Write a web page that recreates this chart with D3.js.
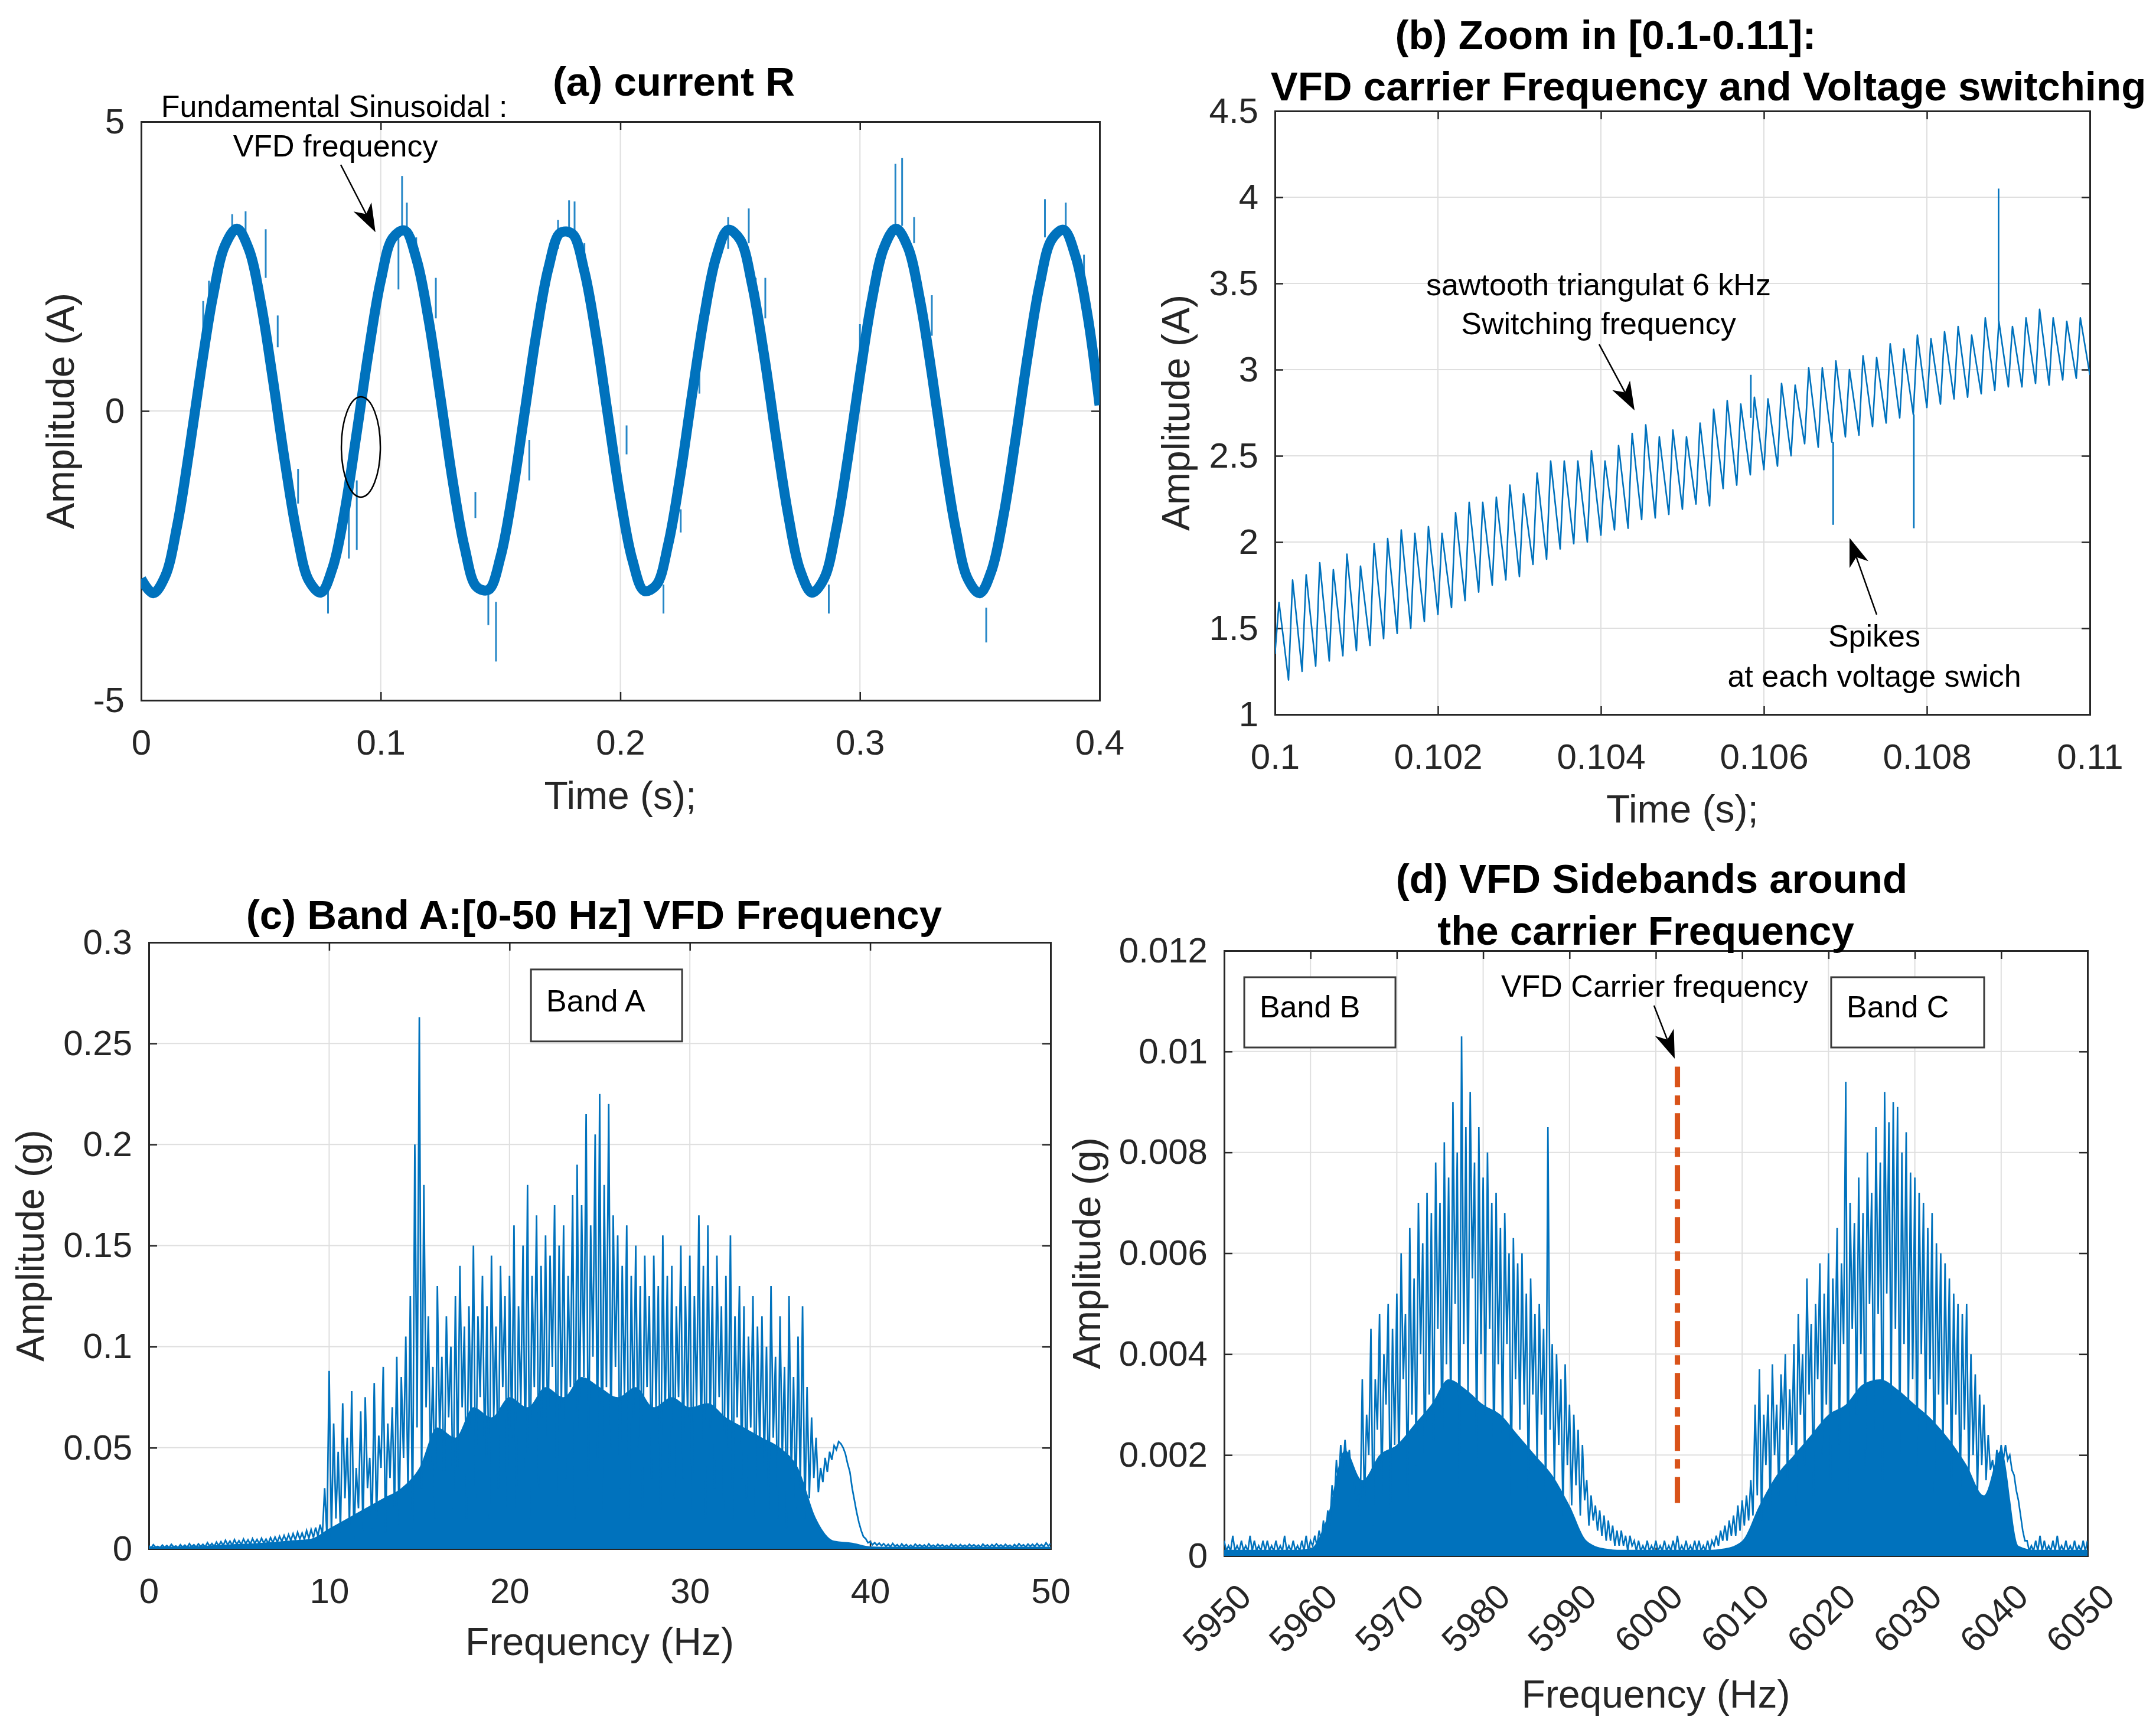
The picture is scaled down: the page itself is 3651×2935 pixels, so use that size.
<!DOCTYPE html>
<html>
<head>
<meta charset="utf-8">
<script src="https://cdn.jsdelivr.net/npm/d3@7"></script>
<style>
  body { margin: 0; background: #fff; }
  svg text { font-family: "Liberation Sans", Arial, Helvetica, sans-serif; }
</style>
</head>
<body>
<svg id="chart" width="3651" height="2935"></svg>
<script>
var width = 3651, height = 2935;
var blue = "#0072BD", orange = "#D95319", axisColor = "#262626", gridColor = "#dfdfdf";
var font = '"Liberation Sans", Arial, Helvetica, sans-serif';

// ---------- (a) current R : one sample every 5 ms ----------
var aStep = 0.005;
var aCurrent = [-2.9, -3.15, -2.86, -1.99, -0.71, 0.71, 1.99, 2.86, 3.15, 2.79,
  1.86, 0.54, -0.88, -2.12, -2.93, -3.14, -2.70, -1.72, -0.37, 1.04,
  2.25, 2.99, 3.12, 2.61, 1.57, 0.21, -1.20, -2.36, -3.04, -3.09,
  -2.52, -1.42, -0.04, 1.35, 2.47, 3.08, 3.06, 2.41, 1.27, -0.13,
  -1.50, -2.57, -3.11, -3.01, -2.30, -1.12, 0.30, 1.64, 2.66, 3.13,
  2.96, 2.18, 0.96, -0.46, -1.78, -2.75, -3.14, -2.90, -2.06, -0.80,
  0.62, 1.92, 2.82, 3.15, 2.83, 1.93, 0.64, -0.79, -2.05, -2.90,
  -3.15, -2.75, -1.79, -0.47, 0.95, 2.18, 2.96, 3.13, 2.67, 1.65, 0.10];
// spikes: [time, low, high]
var aSpikes = [[0.0259, 1.0, 1.9], [0.0283, 1.6, 2.25], [0.0315, 2.2, 2.65], [0.0380, 3.0, 3.4],
  [0.0436, 2.9, 3.45], [0.0520, 2.3, 3.14], [0.0570, 1.1, 1.65], [0.0655, -1.6, -1.0],
  [0.0780, -3.5, -3.0], [0.0867, -2.55, -1.7], [0.0900, -2.4, -1.2],
  [0.1074, 2.1, 3.0], [0.1089, 3.2, 4.06], [0.1109, 3.0, 3.6], [0.1148, 2.4, 3.0], [0.1230, 1.6, 2.3],
  [0.1395, -1.85, -1.4], [0.1449, -3.7, -3.0], [0.1481, -4.33, -3.3], [0.1620, -1.2, -0.5],
  [0.1740, 2.8, 3.3], [0.1786, 3.0, 3.64], [0.1809, 3.0, 3.62], [0.1850, 2.5, 2.9],
  [0.2026, -0.75, -0.25], [0.2180, -3.5, -3.0], [0.2252, -2.1, -1.7], [0.2330, 0.3, 1.0],
  [0.2450, 2.8, 3.35], [0.2536, 2.9, 3.5], [0.2565, 1.8, 2.3], [0.2605, 1.6, 2.3],
  [0.2870, -3.5, -3.0], [0.3000, 0.8, 1.5], [0.3148, 3.2, 4.27], [0.3176, 3.2, 4.37],
  [0.3226, 2.9, 3.35], [0.3300, 1.3, 2.0], [0.3527, -4.0, -3.4], [0.3610, -1.8, -1.2],
  [0.3772, 3.0, 3.66], [0.3859, 3.0, 3.6], [0.3935, 2.3, 2.7]];
var aXTicks = [0, 0.1, 0.2, 0.3, 0.4];
var aYTicks = [-5, 0, 5];

// ---------- (b) zoom 0.1-0.11 s : one tooth per carrier period ----------
var bPeriod = 1 / 6000;
var bStart = 1.35;
var bPeaks = [1.65, 1.78, 1.81, 1.88, 1.84, 1.93, 1.86, 1.99, 2.02, 2.07,
  2.05, 2.09, 2.05, 2.17, 2.23, 2.23, 2.26, 2.33, 2.28, 2.40,
  2.47, 2.47, 2.47, 2.53, 2.47, 2.56, 2.63, 2.68, 2.61, 2.65,
  2.61, 2.69, 2.77, 2.82, 2.80, 2.84, 2.83, 2.92, 2.91, 3.01,
  3.01, 3.05, 3.00, 3.08, 3.07, 3.15, 3.12, 3.20, 3.18, 3.22,
  3.25, 3.20, 3.30, 3.28, 3.25, 3.30, 3.35, 3.30, 3.28, 3.30];
var bTroughs = [1.20, 1.25, 1.28, 1.31, 1.34, 1.37, 1.40, 1.44, 1.47, 1.50,
  1.54, 1.58, 1.62, 1.66, 1.71, 1.75, 1.78, 1.80, 1.87, 1.90,
  1.96, 1.99, 2.00, 2.04, 2.07, 2.08, 2.13, 2.14, 2.16, 2.19,
  2.22, 2.21, 2.31, 2.33, 2.39, 2.42, 2.44, 2.50, 2.57, 2.55,
  2.58, 2.61, 2.62, 2.67, 2.69, 2.72, 2.74, 2.78, 2.80, 2.83,
  2.84, 2.86, 2.88, 2.90, 2.90, 2.92, 2.91, 2.94, 2.95, 2.97];
// spikes: [time, base, tip]
var bSpikes = [[0.10584, 2.72, 2.97], [0.10685, 2.58, 2.10], [0.10784, 2.74, 2.08], [0.10888, 3.28, 4.05]];
var bXTicks = [0.1, 0.102, 0.104, 0.106, 0.108, 0.11];
var bYTicks = [1, 1.5, 2, 2.5, 3, 3.5, 4, 4.5];

// ---------- (c) band A spectrum, 0.25 Hz bins ----------
var cStep = 0.25;
var cHigh = [0.0015, 0.0020, 0.0012, 0.0018, 0.0016, 0.0022, 0.0014, 0.0020,
  0.0018, 0.0025, 0.0020, 0.0024, 0.0022, 0.0030, 0.0026, 0.0033,
  0.0035, 0.0042, 0.0038, 0.0045, 0.0040, 0.0048, 0.0044, 0.0050,
  0.0046, 0.0052, 0.0048, 0.0055, 0.0058, 0.0062, 0.0066, 0.0070,
  0.0075, 0.0082, 0.0078, 0.0090, 0.0095, 0.0105, 0.0120, 0.0300,
  0.0880, 0.0620, 0.0480, 0.0720, 0.0550, 0.0780, 0.0400, 0.0680,
  0.0750, 0.0450, 0.0820, 0.0560, 0.0900, 0.0620, 0.0700, 0.0950,
  0.0850, 0.1050, 0.1250, 0.2000, 0.2630, 0.1800, 0.1150, 0.0900,
  0.1300, 0.0950, 0.1150, 0.1000, 0.1250, 0.1400, 0.1100, 0.1200,
  0.1500, 0.1150, 0.1350, 0.1200, 0.1450, 0.1100, 0.1400, 0.1250,
  0.1350, 0.1600, 0.1200, 0.1500, 0.1800, 0.1350, 0.1650, 0.1400,
  0.1550, 0.1450, 0.1700, 0.1500, 0.1600, 0.1350, 0.1750, 0.1900,
  0.1700, 0.2150, 0.1600, 0.2050, 0.2250, 0.1800, 0.2200, 0.1650,
  0.1550, 0.1400, 0.1600, 0.1350, 0.1500, 0.1300, 0.1450, 0.1250,
  0.1450, 0.1300, 0.1550, 0.1350, 0.1400, 0.1200, 0.1500, 0.1300,
  0.1450, 0.1250, 0.1650, 0.1400, 0.1600, 0.1300, 0.1450, 0.1200,
  0.1350, 0.1550, 0.1150, 0.1300, 0.1200, 0.1050, 0.1250, 0.1100,
  0.1150, 0.1000, 0.1300, 0.0950, 0.1150, 0.0900, 0.1250, 0.0850,
  0.1050, 0.1200, 0.0800, 0.0650, 0.0550, 0.0400, 0.0450, 0.0480,
  0.0510, 0.0530, 0.0500, 0.0420, 0.0300, 0.0180, 0.0090, 0.0050,
  0.0035, 0.0030, 0.0028, 0.0025, 0.0022, 0.0026, 0.0020, 0.0024,
  0.0021, 0.0018, 0.0023, 0.0020, 0.0019, 0.0024, 0.0018, 0.0022,
  0.0020, 0.0017, 0.0023, 0.0019, 0.0021, 0.0018, 0.0022, 0.0020,
  0.0018, 0.0023, 0.0019, 0.0021, 0.0024, 0.0019, 0.0022, 0.0018,
  0.0021, 0.0025, 0.0020, 0.0023, 0.0022, 0.0026, 0.0021, 0.0030,
  0.0025];
// lower turning points between the peaks, same 0.25 Hz bins
var cLow = [0.0004, 0.0008, 0.0005, 0.0007, 0.0006, 0.0009, 0.0005, 0.0008,
  0.0007, 0.0010, 0.0008, 0.0011, 0.0009, 0.0013, 0.0011, 0.0015,
  0.0016, 0.0020, 0.0018, 0.0022, 0.0021, 0.0025, 0.0022, 0.0027,
  0.0025, 0.0029, 0.0026, 0.0031, 0.0033, 0.0036, 0.0038, 0.0041,
  0.0044, 0.0048, 0.0046, 0.0052, 0.0056, 0.0062, 0.0070, 0.0065,
  0.0060, 0.0150, 0.0080, 0.0250, 0.0120, 0.0050, 0.0200, 0.0090,
  0.0300, 0.0100, 0.0150, 0.0400, 0.0080, 0.0350, 0.0200, 0.0120,
  0.0450, 0.0250, 0.0100, 0.0600, 0.0300, 0.0700, 0.0400, 0.0150,
  0.0550, 0.0250, 0.0650, 0.0200, 0.0400, 0.0700, 0.0150, 0.0600,
  0.0250, 0.0750, 0.0450, 0.0150, 0.0650, 0.0300, 0.0800, 0.0200,
  0.0550, 0.0200, 0.0700, 0.0400, 0.0150, 0.0800, 0.0300, 0.0650,
  0.0450, 0.0900, 0.0200, 0.0700, 0.0350, 0.0800, 0.0150, 0.0600,
  0.0850, 0.0300, 0.0950, 0.0450, 0.0200, 0.0800, 0.0500, 0.0900,
  0.0300, 0.0750, 0.0150, 0.0650, 0.0500, 0.0200, 0.0800, 0.0350,
  0.0700, 0.0150, 0.0600, 0.0400, 0.0250, 0.0750, 0.0350, 0.0650,
  0.0200, 0.0700, 0.0450, 0.0150, 0.0600, 0.0300, 0.0750, 0.0200,
  0.0500, 0.0150, 0.0650, 0.0350, 0.0250, 0.0600, 0.0150, 0.0500,
  0.0400, 0.0200, 0.0550, 0.0150, 0.0450, 0.0100, 0.0350, 0.0200,
  0.0300, 0.0150, 0.0250, 0.0350, 0.0280, 0.0330, 0.0380, 0.0440,
  0.0490, 0.0520, 0.0470, 0.0380, 0.0240, 0.0130, 0.0060, 0.0030,
  0.0020, 0.0018, 0.0015, 0.0012, 0.0010, 0.0012, 0.0008, 0.0011,
  0.0009, 0.0008, 0.0012, 0.0010, 0.0008, 0.0011, 0.0009, 0.0012,
  0.0010, 0.0008, 0.0011, 0.0009, 0.0011, 0.0009, 0.0012, 0.0010,
  0.0008, 0.0012, 0.0009, 0.0011, 0.0012, 0.0009, 0.0011, 0.0008,
  0.0010, 0.0013, 0.0009, 0.0012, 0.0011, 0.0012, 0.0010, 0.0014,
  0.0012];
// per 1 Hz: top of the dense base of the band
var cBody = [0.0010, 0.0011, 0.0012, 0.0014, 0.0020, 0.0024, 0.0028, 0.0034, 0.0042, 0.005,
  0.010, 0.015, 0.020, 0.025, 0.030, 0.040, 0.060, 0.055, 0.070, 0.065,
  0.075, 0.070, 0.080, 0.075, 0.085, 0.080, 0.075, 0.080, 0.070, 0.075,
  0.070, 0.072, 0.065, 0.060, 0.055, 0.050, 0.040, 0.015, 0.004, 0.003,
  0.0012, 0.0010, 0.0010, 0.0010, 0.0010, 0.0010, 0.0010, 0.0010, 0.0010, 0.0010, 0.0010];
var cXTicks = [0, 10, 20, 30, 40, 50];
var cYTicks = [0, 0.05, 0.1, 0.15, 0.2, 0.25, 0.3];

// ---------- (d) sidebands around carrier, 0.5 Hz bins from 5950 Hz ----------
var dStart = 5950, dStep = 0.5;
var dHigh = [0.0003, 0.0002, 0.0004, 0.0002, 0.0003, 0.0002, 0.0004, 0.0003, 0.0002, 0.0003,
  0.0003, 0.0002, 0.0003, 0.0002, 0.0004, 0.0002, 0.0003, 0.0002, 0.0003, 0.0004,
  0.0003, 0.0004, 0.0005, 0.0007, 0.0009, 0.0014, 0.0019, 0.0022, 0.0023, 0.0021,
  0.0016, 0.0012, 0.0035, 0.0028, 0.0045, 0.0035, 0.0048, 0.0040, 0.0050, 0.0045,
  0.0052, 0.0060, 0.0048, 0.0065, 0.0055, 0.0070, 0.0062, 0.0072, 0.0068, 0.0078,
  0.0070, 0.0082, 0.0075, 0.0090, 0.0080, 0.0103, 0.0085, 0.0092, 0.0078, 0.0085,
  0.0075, 0.0080, 0.0070, 0.0072, 0.0065, 0.0068, 0.0060, 0.0063, 0.0058, 0.0060,
  0.0052, 0.0055, 0.0048, 0.0050, 0.0045, 0.0085, 0.0042, 0.0040, 0.0035, 0.0038,
  0.0030, 0.0028, 0.0025, 0.0022, 0.0015, 0.0012, 0.0010, 0.0009, 0.0008, 0.0007,
  0.0006, 0.0005, 0.0005, 0.0004, 0.0004, 0.0003, 0.0003, 0.0002, 0.0003, 0.0002,
  0.0003, 0.0002, 0.0003, 0.0002, 0.0003, 0.0004, 0.0002, 0.0003, 0.0002, 0.0003,
  0.0003, 0.0002, 0.0003, 0.0003, 0.0004, 0.0005, 0.0006, 0.0007, 0.0008, 0.0010,
  0.0011, 0.0012, 0.0015, 0.0030, 0.0037, 0.0028, 0.0032, 0.0038, 0.0030, 0.0036,
  0.0040, 0.0033, 0.0042, 0.0048, 0.0040, 0.0055, 0.0046, 0.0050, 0.0058, 0.0052,
  0.0060, 0.0055, 0.0065, 0.0058, 0.0094, 0.0070, 0.0066, 0.0075, 0.0068, 0.0080,
  0.0072, 0.0085, 0.0078, 0.0092, 0.0086, 0.0090, 0.0089, 0.0080, 0.0084, 0.0076,
  0.0075, 0.0072, 0.0070, 0.0065, 0.0068, 0.0062, 0.0060, 0.0058, 0.0055, 0.0052,
  0.0050, 0.0048, 0.0050, 0.0040, 0.0036, 0.0032, 0.0030, 0.0024, 0.0019, 0.0021,
  0.0022, 0.0022, 0.0020, 0.0016, 0.0011, 0.0005, 0.0003, 0.0002, 0.0003, 0.0004,
  0.0003, 0.0002, 0.0003, 0.0004, 0.0002, 0.0003, 0.0002, 0.0003, 0.0002, 0.0003,
  0.0003];
// lower turning points, same 0.5 Hz bins
var dLow = [0.0001, 0.0001, 0.0001, 0.0001, 0.0001, 0.0001, 0.0001, 0.0001, 0.0001, 0.0001,
  0.0001, 0.0001, 0.0001, 0.0001, 0.0001, 0.0001, 0.0001, 0.0001, 0.0001, 0.0001,
  0.0002, 0.0002, 0.0003, 0.0004, 0.0006, 0.0010, 0.0014, 0.0017, 0.0018, 0.0016,
  0.0011, 0.0008, 0.0010, 0.0020, 0.0006, 0.0025, 0.0012, 0.0030, 0.0008, 0.0022,
  0.0015, 0.0035, 0.0010, 0.0028, 0.0018, 0.0040, 0.0012, 0.0032, 0.0020, 0.0045,
  0.0015, 0.0038, 0.0025, 0.0050, 0.0012, 0.0042, 0.0030, 0.0055, 0.0018, 0.0040,
  0.0028, 0.0045, 0.0015, 0.0038, 0.0022, 0.0042, 0.0012, 0.0035, 0.0025, 0.0030,
  0.0012, 0.0032, 0.0018, 0.0028, 0.0010, 0.0025, 0.0015, 0.0022, 0.0008, 0.0018,
  0.0010, 0.0014, 0.0008, 0.0011, 0.0006, 0.0007, 0.0005, 0.0004, 0.0003, 0.0003,
  0.0002, 0.0002, 0.0002, 0.0001, 0.0002, 0.0001, 0.0001, 0.0001, 0.0001, 0.0001,
  0.0001, 0.0001, 0.0001, 0.0001, 0.0001, 0.0001, 0.0001, 0.0001, 0.0001, 0.0001,
  0.0001, 0.0001, 0.0001, 0.0002, 0.0002, 0.0003, 0.0003, 0.0004, 0.0004, 0.0005,
  0.0006, 0.0007, 0.0008, 0.0012, 0.0007, 0.0018, 0.0010, 0.0020, 0.0012, 0.0025,
  0.0015, 0.0022, 0.0010, 0.0028, 0.0018, 0.0032, 0.0012, 0.0035, 0.0020, 0.0030,
  0.0015, 0.0038, 0.0022, 0.0042, 0.0012, 0.0045, 0.0028, 0.0040, 0.0018, 0.0050,
  0.0025, 0.0048, 0.0015, 0.0052, 0.0030, 0.0045, 0.0020, 0.0042, 0.0028, 0.0035,
  0.0018, 0.0040, 0.0025, 0.0035, 0.0012, 0.0032, 0.0020, 0.0030, 0.0015, 0.0028,
  0.0010, 0.0025, 0.0015, 0.0020, 0.0012, 0.0018, 0.0015, 0.0017, 0.0016, 0.0018,
  0.0019, 0.0019, 0.0017, 0.0013, 0.0008, 0.0003, 0.0001, 0.0001, 0.0001, 0.0001,
  0.0001, 0.0001, 0.0001, 0.0001, 0.0001, 0.0001, 0.0001, 0.0001, 0.0001, 0.0001,
  0.0001];
// per 2 Hz: top of the dense base of each band
var dBody = [0.00012, 0.00012, 0.00012, 0.00012, 0.00012, 0.00015, 0.0008, 0.0021, 0.0015, 0.0020,
  0.0022, 0.0026, 0.0030, 0.0035, 0.0033, 0.0030, 0.0028, 0.0024, 0.0020, 0.0016,
  0.0010, 0.0003, 0.00015, 0.00012, 0.00012, 0.00012, 0.00012, 0.00012, 0.00012, 0.00015,
  0.0003, 0.0010, 0.0016, 0.0020, 0.0024, 0.0028, 0.0030, 0.0034, 0.0035, 0.0033,
  0.0030, 0.0027, 0.0023, 0.0018, 0.0012, 0.0021, 0.0002, 0.00012, 0.00012, 0.00012, 0.00012];
var dCarrier = 6002.5, dCarrierRange = [0.00105, 0.0097];
var dXTicks = [5950, 5960, 5970, 5980, 5990, 6000, 6010, 6020, 6030, 6040, 6050];
var dYTicks = [0, 0.002, 0.004, 0.006, 0.008, 0.01, 0.012];

// ---------- helpers ----------
var svg = d3.select("#chart");
svg.append("rect").attr("width", width).attr("height", height).attr("fill", "#fff");
var defs = svg.append("defs");

function makePanel(id, box, xDomain, yDomain) {
  var p = {box: box, id: id};
  p.x = d3.scaleLinear().domain(xDomain).range([box.left, box.right]);
  p.y = d3.scaleLinear().domain(yDomain).range([box.bottom, box.top]);
  p.g = svg.append("g").attr("id", id);
  defs.append("clipPath").attr("id", id + "-clip").append("rect")
    .attr("x", box.left).attr("y", box.top)
    .attr("width", box.right - box.left).attr("height", box.bottom - box.top);
  return p;
}

function drawGrid(p, xTicks, yTicks) {
  var b = p.box, g = p.g.append("g").attr("class", "grid");
  g.selectAll(".gx").data(xTicks).join("line").attr("class", "gx")
    .attr("x1", d => p.x(d)).attr("x2", d => p.x(d)).attr("y1", b.top).attr("y2", b.bottom)
    .attr("stroke", gridColor).attr("stroke-width", 2);
  g.selectAll(".gy").data(yTicks).join("line").attr("class", "gy")
    .attr("y1", d => p.y(d)).attr("y2", d => p.y(d)).attr("x1", b.left).attr("x2", b.right)
    .attr("stroke", gridColor).attr("stroke-width", 2);
}

function drawAxes(p, xTicks, yTicks, rotate) {
  var b = p.box, fmt = d => String(d);
  var bottom = p.g.append("g").attr("transform", "translate(0," + b.bottom + ")")
    .call(d3.axisBottom(p.x).tickValues(xTicks).tickSizeInner(-14).tickSizeOuter(0).tickPadding(49).tickFormat(fmt));
  var top = p.g.append("g").attr("transform", "translate(0," + b.top + ")")
    .call(d3.axisTop(p.x).tickValues(xTicks).tickSizeInner(-14).tickSizeOuter(0).tickFormat(""));
  var left = p.g.append("g").attr("transform", "translate(" + b.left + ",0)")
    .call(d3.axisLeft(p.y).tickValues(yTicks).tickSizeInner(-14).tickSizeOuter(0).tickPadding(28).tickFormat(fmt));
  var right = p.g.append("g").attr("transform", "translate(" + b.right + ",0)")
    .call(d3.axisRight(p.y).tickValues(yTicks).tickSizeInner(-14).tickSizeOuter(0).tickFormat(""));
  [bottom, top, left, right].forEach(a => {
    a.attr("font-size", 60).attr("font-family", font);
    a.select(".domain").attr("stroke", axisColor).attr("stroke-width", 3).attr("stroke-linecap", "square");
    a.selectAll(".tick line").attr("stroke", axisColor).attr("stroke-width", 2.5);
    a.selectAll(".tick text").attr("fill", axisColor);
  });
  if (rotate) {
    bottom.selectAll(".tick text").attr("x", 0).attr("y", 0).attr("dy", "0.35em")
      .attr("text-anchor", "end").attr("transform", "translate(34,58) rotate(-45)");
  }
}

function axisLabels(p, xLabel, xOff, yLabel, yOff) {
  var b = p.box;
  p.g.append("text").attr("x", (b.left + b.right) / 2).attr("y", b.bottom + xOff)
    .attr("text-anchor", "middle").attr("font-size", 66).attr("fill", axisColor).text(xLabel);
  p.g.append("text")
    .attr("transform", "translate(" + (b.left - yOff) + "," + (b.top + b.bottom) / 2 + ") rotate(-90)")
    .attr("text-anchor", "middle").attr("font-size", 66).attr("fill", axisColor).text(yLabel);
}

function title(lines) {
  lines.forEach(l => {
    svg.append("text").attr("x", l[1]).attr("y", l[2]).attr("text-anchor", "middle")
      .attr("font-size", 69).attr("font-weight", "bold").attr("fill", "#000").text(l[0]);
  });
}

function note(g, txt, x, y) {
  g.append("text").attr("x", x).attr("y", y).attr("text-anchor", "middle")
    .attr("font-size", 52).attr("fill", "#000").text(txt);
}

function arrow(g, x1, y1, x2, y2) {
  var dx = x2 - x1, dy = y2 - y1, len = Math.hypot(dx, dy), ux = dx / len, uy = dy / len;
  var hl = 48, hw = 17;
  var bx = x2 - ux * hl, by = y2 - uy * hl;
  var nx = x2 - ux * hl * 0.72, ny = y2 - uy * hl * 0.72;
  g.append("line").attr("x1", x1).attr("y1", y1).attr("x2", nx).attr("y2", ny)
    .attr("stroke", "#000").attr("stroke-width", 2.5);
  g.append("path")
    .attr("d", "M" + x2 + "," + y2 + "L" + (bx - uy * hw) + "," + (by + ux * hw) +
      "L" + nx + "," + ny + "L" + (bx + uy * hw) + "," + (by - ux * hw) + "Z")
    .attr("fill", "#000");
}

function textBox(p, label, f0, f1, v0, v1, fText, vText) {
  p.g.append("rect").attr("x", p.x(f0)).attr("y", p.y(v0))
    .attr("width", p.x(f1) - p.x(f0)).attr("height", p.y(v1) - p.y(v0))
    .attr("fill", "#fff").attr("stroke", "#3a3a3a").attr("stroke-width", 3);
  p.g.append("text").attr("x", p.x(fText)).attr("y", p.y(vText))
    .attr("font-size", 52).attr("fill", "#000").text(label);
}

// ---------- (a) ----------
var pA = makePanel("pa", {left: 239, top: 206, right: 1862, bottom: 1186}, [0, 0.4], [-5, 5]);
drawGrid(pA, aXTicks, aYTicks);
drawAxes(pA, aXTicks, aYTicks, false);
var gA = pA.g.append("g").attr("clip-path", "url(#pa-clip)");
gA.append("path").datum(aCurrent)
  .attr("d", d3.line().x((d, i) => pA.x(i * aStep)).y(d => pA.y(d)).curve(d3.curveCatmullRom))
  .attr("fill", "none").attr("stroke", blue).attr("stroke-width", 17).attr("stroke-linejoin", "round");
gA.selectAll(".spike").data(aSpikes).join("line").attr("class", "spike")
  .attr("x1", d => pA.x(d[0])).attr("x2", d => pA.x(d[0]))
  .attr("y1", d => pA.y(d[1])).attr("y2", d => pA.y(d[2]))
  .attr("stroke", blue).attr("stroke-width", 3).attr("stroke-opacity", 0.85);
axisLabels(pA, "Time (s);", 184, "Amplitude (A)", 114);
title([["(a) current R", 1141, 162]]);
note(pA.g, "Fundamental Sinusoidal :", pA.x(0.0806), pA.y(5.08));
note(pA.g, "VFD frequency", pA.x(0.0811), pA.y(4.40));
arrow(pA.g, pA.x(0.0833), pA.y(4.255), pA.x(0.0978), pA.y(3.09));
pA.g.append("ellipse").attr("cx", pA.x(0.0917)).attr("cy", pA.y(-0.622))
  .attr("rx", pA.x(0.0917 + 0.00813) - pA.x(0.0917)).attr("ry", pA.y(-0.622) - pA.y(-0.622 + 0.867))
  .attr("fill", "none").attr("stroke", "#000").attr("stroke-width", 2.5);

// ---------- (b) ----------
var pB = makePanel("pb", {left: 2159, top: 188, right: 3539, bottom: 1210}, [0.1, 0.11], [1, 4.5]);
drawGrid(pB, bXTicks, bYTicks);
drawAxes(pB, bXTicks, bYTicks, false);
var bPoints = [[0.1, bStart]];
bPeaks.forEach((v, k) => {
  bPoints.push([0.1 + (k + 0.3) * bPeriod, v]);
  bPoints.push([0.1 + (k + 1) * bPeriod, bTroughs[k]]);
});
var gB = pB.g.append("g").attr("clip-path", "url(#pb-clip)");
gB.append("path").datum(bPoints)
  .attr("d", d3.line().x(d => pB.x(d[0])).y(d => pB.y(d[1])))
  .attr("fill", "none").attr("stroke", blue).attr("stroke-width", 2.6).attr("stroke-linejoin", "round");
gB.selectAll(".spike").data(bSpikes).join("line").attr("class", "spike")
  .attr("x1", d => pB.x(d[0])).attr("x2", d => pB.x(d[0]))
  .attr("y1", d => pB.y(d[1])).attr("y2", d => pB.y(d[2]))
  .attr("stroke", blue).attr("stroke-width", 2.6);
axisLabels(pB, "Time (s);", 183, "Amplitude (A)", 145);
title([["(b) Zoom in [0.1-0.11]:", 2719, 83], ["VFD carrier Frequency and Voltage switching", 2893, 170]]);
note(pB.g, "sawtooth triangulat 6 kHz", pB.x(0.103971), pB.y(3.432));
note(pB.g, "Switching frequency", pB.x(0.103971), pB.y(3.205));
arrow(pB.g, pB.x(0.103978), pB.y(3.147), pB.x(0.104413), pB.y(2.764));
note(pB.g, "Spikes", pB.x(0.107355), pB.y(1.394));
note(pB.g, "at each voltage swich", pB.x(0.107355), pB.y(1.161));
arrow(pB.g, pB.x(0.107384), pB.y(1.579), pB.x(0.107051), pB.y(2.024));

// ---------- spectrum helper ----------
function spectrum(p, clip, start, step, high, low, bodyStep, body, lw) {
  var g = p.g.append("g").attr("clip-path", "url(#" + clip + ")");
  g.append("path").datum(body)
    .attr("d", d3.area().x((d, j) => p.x(start + j * bodyStep)).y0(p.y(0)).y1(d => p.y(d)).curve(d3.curveMonotoneX))
    .attr("fill", blue);
  var pts = [];
  high.forEach((v, i) => {
    var f = start + i * step;
    pts.push([f, v]);
    if (i < high.length - 1) pts.push([f + step / 2, low[i]]);
  });
  g.append("path").datum(pts)
    .attr("d", d3.line().x(d => p.x(d[0])).y(d => p.y(d[1])))
    .attr("fill", "none").attr("stroke", blue).attr("stroke-width", lw);
  return g;
}

// ---------- (c) ----------
var pC = makePanel("pc", {left: 252, top: 1596, right: 1779, bottom: 2623}, [0, 50], [0, 0.3]);
drawGrid(pC, cXTicks, cYTicks);
drawAxes(pC, cXTicks, cYTicks, false);
spectrum(pC, "pc-clip", 0, cStep, cHigh, cLow, 1, cBody, 2.7);
axisLabels(pC, "Frequency (Hz)", 180, "Amplitude (g)", 178);
title([["(c) Band A:[0-50 Hz] VFD Frequency", 1006, 1573]]);
textBox(pC, "Band A", 21.19, 29.57, 0.2866, 0.2510, 22.04, 0.2659);

// ---------- (d) ----------
var pD = makePanel("pd", {left: 2073, top: 1610, right: 3535, bottom: 2635}, [5950, 6050], [0, 0.012]);
drawGrid(pD, dXTicks, dYTicks);
drawAxes(pD, dXTicks, dYTicks, true);
spectrum(pD, "pd-clip", dStart, dStep, dHigh, dLow, 2, dBody, 2.6);
pD.g.append("line").attr("x1", pD.x(dCarrier)).attr("x2", pD.x(dCarrier))
  .attr("y1", pD.y(dCarrierRange[0])).attr("y2", pD.y(dCarrierRange[1]))
  .attr("stroke", orange).attr("stroke-width", 9).attr("stroke-dasharray", "44 14 16 14");
axisLabels(pD, "Frequency (Hz)", 257, "Amplitude (g)", 210);
title([["(d) VFD Sidebands around", 2797, 1512], ["the carrier Frequency", 2787, 1600]]);
textBox(pD, "Band B", 5952.33, 5969.84, 0.011473, 0.010080, 5954.10, 0.010677);
textBox(pD, "Band C", 6020.31, 6038.03, 0.011473, 0.010080, 6022.09, 0.010677);
note(pD.g, "VFD Carrier frequency", pD.x(5999.86), pD.y(0.011087));
arrow(pD.g, pD.x(5999.79), pD.y(0.010911), pD.x(6002.19), pD.y(0.009857));
</script>
</body>
</html>
